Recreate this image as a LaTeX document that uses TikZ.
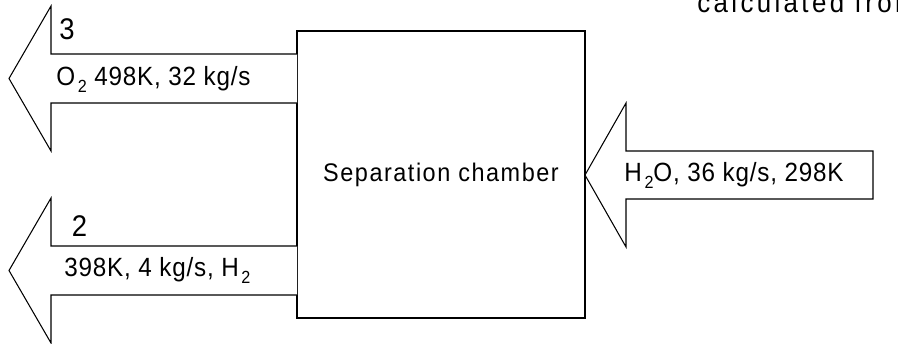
\documentclass[tikz,border=0pt]{standalone}
\usepackage{fontspec}
\setmainfont{Liberation Sans}
\newfontfamily\flowfont{Liberation Sans}[FakeStretch=0.92, LetterSpace=3]
\newfontfamily\chamberfont{Liberation Sans}[FakeStretch=0.92, LetterSpace=6]
\newfontfamily\notefont{Liberation Sans}[FakeStretch=0.92, LetterSpace=12]
\newcommand\chemsub[1]{\kern1.5pt\raisebox{-4pt}{\fontsize{10}{10}\selectfont#1}}
\usetikzlibrary{positioning}
\tikzset{
	flow/.style={draw, line width=0.6pt, line join=miter, fill=white},
	flowtext/.style={anchor=west, inner sep=0pt, font=\flowfont\fontsize{15}{18}\selectfont},
	streamno/.style={inner sep=0pt, font=\flowfont\fontsize{17}{20}\selectfont}
}
\begin{document}
\begin{tikzpicture}[x=0.02cm, y=-0.02cm]
	\useasboundingbox (0,0) rectangle (898,343);
	\clip (0,0) rectangle (898,343);
	\node[draw, line width=0.6pt, minimum width=288*0.02cm, minimum height=287*0.02cm,
		font=\chamberfont\fontsize{14.5}{17}\selectfont] (chamber) at (441,174.5) {Separation chamber};
	% outgoing stream 3
	\draw[flow] (297,54) -- (51,54) -- (51,6) -- (9,78.5) -- (51,151) -- (51,103) -- (297,103);
	\node[streamno] (no3) at (67,29) {3};
	\node[flowtext] (oxygen) at (56,79) {O\chemsub{2} 498K, 32 kg/s};
	% outgoing stream 2
	\draw[flow] (297,246) -- (51,246) -- (51,198) -- (9,270.5) -- (51,343) -- (51,295) -- (297,295);
	\node[streamno] (no2) at (79.5,226) {2};
	\node[flowtext] (hydrogen) at (64,270.5) {398K, 4 kg/s, H\chemsub{2}};
	% incoming stream 1
	\draw[flow] (873,151) -- (626,151) -- (626,103) -- (585,175) -- (626,247) -- (626,199) -- (873,199) -- cycle;
	\node[flowtext] (water) at (624,175) {H\chemsub{2}O, 36 kg/s, 298K};
	\node[streamno, anchor=west] (no1) at (896.5,175) {1};
	\node[anchor=base west, inner sep=0pt, font=\notefont\fontsize{16}{19}\selectfont] (note) at (697,12) {calculated from};
\end{tikzpicture}
\end{document}
